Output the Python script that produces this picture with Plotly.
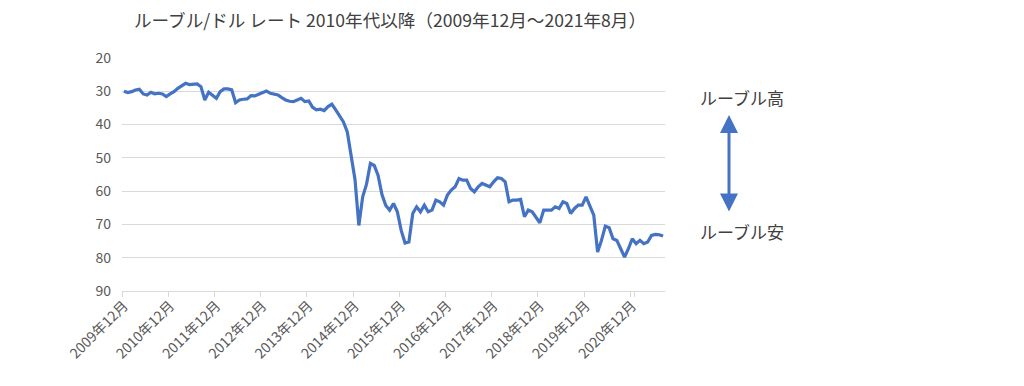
import plotly.graph_objects as go

# Monthly RUB/USD rate, Dec 2009 .. Aug 2021
start_year, start_month = 2009, 12
rates = [
    30.0,                                                               # 2009-12
    30.4, 30.1, 29.6, 29.4, 30.8, 31.1, 30.3, 30.8, 30.6, 30.8, 31.6, 30.8,  # 2010
    30.1, 29.1, 28.4, 27.6, 28.0, 27.8, 27.8, 28.6, 32.6, 30.3, 31.1, 32.1,  # 2011
    30.1, 29.3, 29.3, 29.6, 33.4, 32.6, 32.4, 32.3, 31.3, 31.4, 30.9, 30.4,  # 2012
    29.9, 30.6, 30.9, 31.1, 31.9, 32.6, 33.0, 33.1, 32.6, 32.1, 33.1, 32.9,  # 2013
    34.8, 35.6, 35.4, 35.8, 34.6, 33.9, 35.6, 37.2, 39.2, 42.2, 48.7, 56.5,  # 2014
    70.3, 61.7, 57.9, 51.7, 52.3, 55.3, 61.0, 64.3, 65.7, 63.7, 66.2, 71.8,  # 2015
    75.6, 75.3, 66.7, 64.7, 66.2, 64.2, 66.2, 65.7, 62.7, 63.2, 64.2, 61.2,  # 2016
    59.7, 58.7, 56.2, 56.7, 56.7, 59.2, 60.2, 58.7, 57.7, 58.2, 58.7, 57.2,  # 2017
    56.0, 56.2, 57.2, 63.2, 62.7, 62.7, 62.5, 67.7, 65.7, 66.2, 67.7, 69.5,  # 2018
    65.7, 65.7, 65.7, 64.7, 65.2, 63.2, 63.7, 66.7, 65.2, 64.2, 64.2, 61.7,  # 2019
    64.2, 67.2, 78.3, 74.8, 70.5, 71.0, 74.3, 74.8, 77.3, 79.8, 77.3, 74.3,  # 2020
    75.8, 74.8, 75.8, 75.3, 73.3, 73.0, 73.1, 73.5,                          # 2021
]
y_ticks = [20, 30, 40, 50, 60, 70, 80, 90]
title_text = "ルーブル/ドル レート 2010年代以降（2009年12月～2021年8月）"
label_high = "ルーブル高"
label_low = "ルーブル安"

months = []
y, m = start_year, start_month
for _ in rates:
    months.append(f"{y}年{m}月")
    m += 1
    if m > 12:
        m = 1
        y += 1

tick_vals = months[::12]

FONT = "Noto Sans CJK JP"
BLUE = "#4472C4"
GRID = "#D9D9D9"
TXT = "#595959"

fig = go.Figure()
fig.add_trace(go.Scatter(
    x=months, y=rates, mode="lines",
    line=dict(color=BLUE, width=3.2),
    hoverinfo="x+y", showlegend=False,
))

fig.update_layout(
    width=1024, height=386,
    margin=dict(l=122, r=359, t=58, b=95, autoexpand=False),
    paper_bgcolor="white", plot_bgcolor="white",
    font=dict(family=FONT, color=TXT, size=12),
    title=dict(text=title_text, x=390 / 1024, xanchor="center",
               y=1 - 21 / 386, yanchor="middle",
               font=dict(family=FONT, size=17.6, color="#404040")),
)

fig.update_xaxes(
    type="category", categoryorder="array", categoryarray=months,
    tickmode="array", tickvals=tick_vals, ticktext=tick_vals,
    tickson="boundaries", tickangle=-45, automargin=False,
    ticks="outside", ticklen=5, tickcolor=GRID,
    showgrid=False, showline=True, linecolor=GRID, linewidth=1,
    range=[-0.5, len(months) - 0.5],
    tickfont=dict(family=FONT, size=14, color=TXT),
)
fig.update_yaxes(
    range=[90, 20], tickmode="array", tickvals=y_ticks,
    showgrid=True, gridcolor=GRID, gridwidth=1, automargin=False,
    zeroline=False, showline=False, ticks="", ticklabelstandoff=10,
    tickfont=dict(family=FONT, size=14, color=TXT),
)

# Double-headed arrow and labels
fig.add_annotation(
    x=(729 - 122) / 543, y=(291 - 115) / 233, xref="paper", yref="paper",
    ax=0, ay=98, axref="pixel", ayref="pixel",
    text="", showarrow=True, arrowhead=2, startarrowhead=2,
    arrowside="end+start", arrowsize=1.2, arrowwidth=3, arrowcolor=BLUE,
)
fig.add_annotation(
    x=(742 - 122) / 543, y=(291 - 97) / 233, xref="paper", yref="paper",
    xanchor="center", yanchor="middle",
    text=label_high, showarrow=False,
    font=dict(family=FONT, size=17, color="#404040"),
)
fig.add_annotation(
    x=(742 - 122) / 543, y=(291 - 231) / 233, xref="paper", yref="paper",
    xanchor="center", yanchor="middle",
    text=label_low, showarrow=False,
    font=dict(family=FONT, size=17, color="#404040"),
)

fig.write_html("out.html", config={"displayModeBar": False},
               post_script="document.body.style.margin='0';")
